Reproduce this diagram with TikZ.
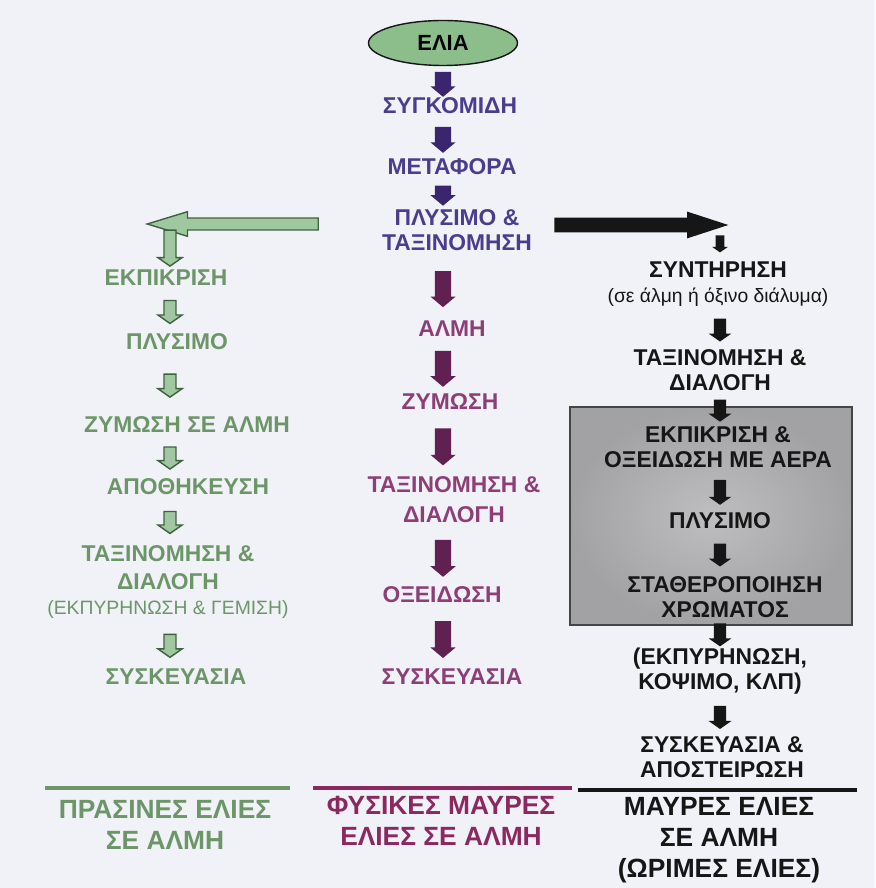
\documentclass[tikz,border=0pt]{standalone}
\usepackage{fontspec}
\setmainfont{Liberation Sans}
\usetikzlibrary{shapes.geometric,shapes.arrows}
\definecolor{mybg}{RGB}{240,242,247}
\definecolor{mygreen}{RGB}{108,150,104}
\definecolor{mylightgreen}{RGB}{160,200,160}
\definecolor{mydarkgreen}{RGB}{62,98,62}
\definecolor{myolive}{RGB}{140,190,140}
\definecolor{mypurple}{RGB}{76,60,142}
\definecolor{mydarkpurple}{RGB}{58,38,110}
\definecolor{mymagenta}{RGB}{142,62,118}
\definecolor{mydarkmagenta}{RGB}{96,32,80}
\definecolor{mywine}{RGB}{140,40,96}
\definecolor{myblack}{RGB}{22,22,22}
\definecolor{mygray}{RGB}{162,162,165}
\definecolor{mylightgray}{RGB}{190,190,193}
\newcommand{\pix}{0.569pt}
\tikzset{
    common/.style={align=center, inner sep=1pt},
    stage/.style={common, font=\fontsize{13}{14}\selectfont\bfseries},
    note/.style={font=\fontsize{11}{13}\selectfont},
    title/.style={common, font=\fontsize{15}{17.5}\selectfont\bfseries},
    blockarrow/.style={single arrow, inner xsep=0pt, single arrow head indent=0pt, rotate=-90, minimum height=#1*\pix},
    midarrow/.style={blockarrow=#1, fill=mydarkmagenta, inner ysep=4.4pt, single arrow head extend=2.6pt, single arrow tip angle=100},
    toparrow/.style={midarrow=#1, fill=mydarkpurple},
    greenarrow/.style={blockarrow=#1, fill=mylightgreen, draw=mydarkgreen, line width=0.8pt, inner ysep=3pt, single arrow head extend=3.5pt, single arrow tip angle=110},
    blackarrow/.style={blockarrow=#1, fill=myblack, inner ysep=3.3pt, single arrow head extend=3pt, single arrow tip angle=110},
    underline/.style={line width=2pt}
}
\begin{document}
\begin{tikzpicture}[x=0.02cm, y=-0.02cm]
    \fill[mybg] (0,0) rectangle (875,888);
    \useasboundingbox (0,0) rectangle (875,888);
    \coordinate (gcol) at (170,0);
    \coordinate (mcol) at (443,0);
    \coordinate (bcol) at (720,0);

    \draw[draw=myblack!80, line width=1pt, inner color=mylightgray, outer color=mygray] (570,407) rectangle (852,625);

    \node[ellipse, draw=myblack, line width=0.8pt, fill=myolive, minimum width=149*\pix, minimum height=45*\pix,
        font=\fontsize{12.5}{14}\selectfont\bfseries] (olive) at (443,43) {ΕΛΙΑ};

    \node[stage, text=mypurple] (harvest) at (450,106) {ΣΥΓΚΟΜΙΔΗ};
    \node[stage, text=mypurple] (transport) at (452,167) {ΜΕΤΑΦΟΡΑ};
    \node[stage, text=mypurple] (washsort) at (457,230) {ΠΛΥΣΙΜΟ \&\\ΤΑΞΙΝΟΜΗΣΗ};
    \node[stage, text=mymagenta] (brine) at (452,329) {ΑΛΜΗ};
    \node[stage, text=mymagenta] (ferment) at (450,402) {ΖΥΜΩΣΗ};
    \node[stage, text=mymagenta] (sortm) at (454,500) {ΤΑΞΙΝΟΜΗΣΗ \&\\[3pt]ΔΙΑΛΟΓΗ};
    \node[stage, text=mymagenta] (oxid) at (442,595) {ΟΞΕΙΔΩΣΗ};
    \node[stage, text=mymagenta] (packm) at (452,677) {ΣΥΣΚΕΥΑΣΙΑ};

    \node[stage, text=mygreen] (debitg) at (166,278) {ΕΚΠΙΚΡΙΣΗ};
    \node[stage, text=mygreen] (washg) at (177,342) {ΠΛΥΣΙΜΟ};
    \node[stage, text=mygreen] (fermg) at (187,425) {ΖΥΜΩΣΗ ΣΕ ΑΛΜΗ};
    \node[stage, text=mygreen] (storeg) at (188,487) {ΑΠΟΘΗΚΕΥΣΗ};
    \node[stage, text=mygreen] (sortg) at (168,582) {ΤΑΞΙΝΟΜΗΣΗ \&\\[2pt]ΔΙΑΛΟΓΗ\\{\normalfont\fontsize{11}{13}\selectfont (ΕΚΠΥΡΗΝΩΣΗ \& ΓΕΜΙΣΗ)}};
    \node[stage, text=mygreen] (packg) at (176,677) {ΣΥΣΚΕΥΑΣΙΑ};

    \node[stage, text=myblack] (preserve) at (718,284) {ΣΥΝΤΗΡΗΣΗ\\{\normalfont\fontsize{11}{13}\selectfont (σε άλμη ή όξινο διάλυμα)}};
    \node[stage, text=myblack] (sortb) at (720,370) {ΤΑΞΙΝΟΜΗΣΗ \&\\ΔΙΑΛΟΓΗ};
    \node[stage, text=myblack] (debitb) at (718,447) {ΕΚΠΙΚΡΙΣΗ \&\\ΟΞΕΙΔΩΣΗ ΜΕ ΑΕΡΑ};
    \node[stage, text=myblack] (washb) at (720,521) {ΠΛΥΣΙΜΟ};
    \node[stage, text=myblack] (fixcol) at (725,597) {ΣΤΑΘΕΡΟΠΟΙΗΣΗ\\ΧΡΩΜΑΤΟΣ};
    \node[stage, text=myblack] (pitb) at (720,671) {(ΕΚΠΥΡΗΝΩΣΗ,\\ΚΟΨΙΜΟ, ΚΛΠ)};
    \node[stage, text=myblack] (packb) at (722,757) {ΣΥΣΚΕΥΑΣΙΑ \&\\ΑΠΟΣΤΕΙΡΩΣΗ};

    \draw[underline, mygreen] (45,788) -- (290,788);
    \draw[underline, mywine] (313,788) -- (572,788);
    \draw[underline, myblack] (578,790) -- (857,790);
    \node[title, text=mygreen] (labgreen) at (165,825) {ΠΡΑΣΙΝΕΣ ΕΛΙΕΣ\\ΣΕ ΑΛΜΗ};
    \node[title, text=mywine] (labnat) at (441,821) {ΦΥΣΙΚΕΣ ΜΑΥΡΕΣ\\ΕΛΙΕΣ ΣΕ ΑΛΜΗ};
    \node[title, text=myblack] (labripe) at (719,840) {ΜΑΥΡΕΣ ΕΛΙΕΣ\\ΣΕ ΑΛΜΗ\\(ΩΡΙΜΕΣ ΕΛΙΕΣ)};

    \path (olive.south -| mcol) -- node[toparrow=25] (a1) {} (harvest.north -| mcol);
    \path (harvest.south -| mcol) -- node[toparrow=26] (a2) {} (transport.north -| mcol);
    \path (transport.south -| mcol) -- node[toparrow=20] (a3) {} (washsort.north -| mcol);
    \path (washsort.south -| mcol) -- node[midarrow=36] (a4) {} (brine.north -| mcol);
    \path (brine.south -| mcol) -- node[midarrow=36] (a5) {} (ferment.north -| mcol);
    \path (ferment.south -| mcol) -- node[midarrow=37] (a6) {} (sortm.north -| mcol);
    \path (sortm.south -| mcol) -- node[midarrow=37] (a7) {} (oxid.north -| mcol);
    \path (oxid.south -| mcol) -- node[midarrow=37] (a8) {} (packm.north -| mcol);

    \coordinate (gtail) at (328,224);
    \coordinate (gtip) at (157,224);
    \path (gtail) -- node[greenarrow=171, rotate=-90, single arrow head extend=3.6pt, single arrow tip angle=34] (gbig) {} (gtip);
    \path (gtip -| gcol) -- node[greenarrow=36] (g1) {} (debitg.north -| gcol);
    \path (debitg.south -| gcol) -- node[greenarrow=23] (g2) {} (washg.north -| gcol);
    \path (washg.south -| gcol) -- node[greenarrow=23] (g3) {} (fermg.north -| gcol);
    \path (fermg.south -| gcol) -- node[greenarrow=22] (g4) {} (storeg.north -| gcol);
    \path (storeg.south -| gcol) -- node[greenarrow=22] (g5) {} (sortg.north -| gcol);
    \path (sortg.south -| gcol) -- node[greenarrow=23] (g6) {} (packg.north -| gcol);

    \coordinate (btail) at (543,225);
    \coordinate (btip) at (717,225);
    \path (btail) -- node[blackarrow=174, rotate=90, inner ysep=4pt, single arrow head extend=3.4pt, single arrow tip angle=36] (bbig) {} (btip);
    \path (btip -| bcol) -- node[blackarrow=17, inner ysep=2.3pt, single arrow head extend=2pt] (b1) {} (preserve.north -| bcol);
    \path (preserve.south -| bcol) -- node[blackarrow=23] (b2) {} (sortb.north -| bcol);
    \path (sortb.south -| bcol) -- node[blackarrow=22] (b3) {} (debitb.north -| bcol);
    \path (debitb.south -| bcol) -- node[blackarrow=25] (b4) {} (washb.north -| bcol);
    \path (washb.south -| bcol) -- node[blackarrow=23] (b5) {} (fixcol.north -| bcol);
    \path (fixcol.south -| bcol) -- node[blackarrow=23] (b6) {} (pitb.north -| bcol);
    \path (pitb.south -| bcol) -- node[blackarrow=23] (b7) {} (packb.north -| bcol);
\end{tikzpicture}
\end{document}
